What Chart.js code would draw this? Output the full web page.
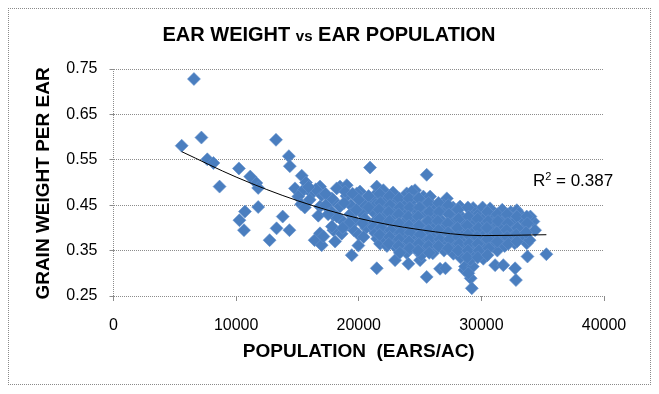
<!DOCTYPE html>
<html>
<head>
<meta charset="utf-8">
<script src="https://cdn.jsdelivr.net/npm/chart.js@4/dist/chart.umd.min.js"></script>
<style>
  html, body { margin: 0; padding: 0; background: #fff; }
  #wrap { position: relative; width: 659px; height: 394px; }
  #frame { position: absolute; left: 8px; top: 8px; width: 641px; height: 375px; border: 1px dotted #8a8a8a; pointer-events: none; }
  canvas { position: absolute; left: 0; top: 0; }
</style>
</head>
<body>
<div id="wrap">
  <canvas id="c" width="659" height="394"></canvas>
  <div id="frame"></div>
</div>
<script>
// ---- DATA ----
const chartTitle = ["EAR WEIGHT ", "vs", " EAR POPULATION"];
const xAxisTitle = "POPULATION  (EARS/AC)";
const yAxisTitle = "GRAIN WEIGHT PER EAR";
const r2Label = ["R", "2", " = 0.387"];

const xTicks = [0, 10000, 20000, 30000, 40000];
const yTicks = [0.25, 0.35, 0.45, 0.55, 0.65, 0.75];

const population = [
  5560,6560,7170,7650,8150,8650,10230,11150,11650,11800,11800,10720,10270,10640,12730,13250,13300,13800,
  14300,14380,14350,15350,14800,15480,15070,15300,16170,16840,16980,16840,16700,16400,16980,16840,17930,17930,18470,18470,18610,18200,17800,17660,18200,17930,18070,17810,17120,
  19020,19020,19430,19970,20100,20100,19840,20920,20920,18610,19350,20270,20720,19000,19300,19700,20300,19600,20000,18800,20500,20600,20400,
  21470,21250,21400,21300,21450,21200,21350,21500,21740,21470,
  22010,22100,22000,22200,22050,22010,22150,22300,
  22950,22800,22780,22900,23000,22850,22960,23100,22960,
  23640,23910,23700,23800,23600,23750,23700,23900,
  24500,24590,24320,24400,24600,24450,24670,24500,24400,24550,24050,25000,
  25010,25360,25540,25270,25630,25200,25400,25250,25450,25300,25540,25100,
  25820,26040,26000,26200,26100,26000,26250,26630,
  27180,26380,26730,26900,26800,27000,26900,27070,27140,26950,
  27590,27700,27800,27650,27750,27600,27720,
  28260,28100,28440,28500,28600,28400,28550,28620,28790,28670,28300,
  29330,29200,29400,29250,29400,29300,29130,29220,29300,28940,29100,29500,
  29820,30150,30500,30160,30100,30200,30000,30300,30000,29900,
  30710,30900,31000,30800,31000,30900,31120,31300,
  31700,31800,31600,31700,31500,31790,31900,
  32210,32400,32600,32400,32500,32890,32750,32820,32720,
  33070,33300,33580,33200,33400,33700,33760,33930,
  34240,34380,34000,35300,
  15700,16000,15600,16500,17300,17300,17500,15900,
  18900,19500,20000,19200,18700,20800,20800,20300,19800,
  21700,21750,21650,21700,21800,21700,
  22500,22550,22450,22500,22600,22500,22450,
  23300,23350,23250,23300,23400,23300,23250,23350,
  24100,24150,24050,24100,24200,24100,24150,
  24900,24950,24850,24900,25000,24900,24850,
  25700,25750,25650,25700,25800,25700,25750,
  26500,26550,26450,26500,26600,26500,
  27300,27350,27250,27300,27400,27300,
  28100,28150,28050,28100,28200,28100,
  28900,28950,28850,28900,29000,28900,28850,
  29700,29750,29650,29700,29800,29700,
  30500,30550,30450,30500,30600,30500,
  31300,31350,31250,31300,
  32100,32150,32050,32100,32200,
  32900,32950,32850,32900,
  33700,33750,33650
];
const earWeight = [
  0.581,0.728,0.599,0.551,0.543,0.491,0.531,0.513,0.499,0.488,0.446,0.436,0.417,0.395,0.373,0.594,0.399,0.425,
  0.558,0.536,0.395,0.515,0.487,0.483,0.469,0.452,0.476,0.491,0.472,0.447,0.427,0.373,0.362,0.388,0.428,0.461,0.491,0.447,0.417,0.487,0.465,0.439,0.425,0.395,0.370,0.403,0.381,
  0.494,0.406,0.340,0.361,0.480,0.436,0.476,0.533,0.403,0.387,0.450,0.432,0.461,0.470,0.430,0.415,0.455,0.395,0.385,0.455,0.420,0.400,0.380,
  0.491,0.470,0.452,0.432,0.418,0.402,0.388,0.376,0.365,0.311,
  0.483,0.465,0.445,0.430,0.410,0.395,0.375,0.360,
  0.461,0.478,0.425,0.442,0.405,0.388,0.370,0.355,0.329,
  0.432,0.476,0.455,0.415,0.395,0.375,0.360,0.345,
  0.476,0.483,0.480,0.460,0.440,0.420,0.373,0.400,0.385,0.355,0.321,0.329,
  0.403,0.432,0.517,0.469,0.461,0.450,0.410,0.390,0.370,0.355,0.292,0.340,
  0.469,0.344,0.445,0.425,0.405,0.385,0.365,0.310,
  0.465,0.432,0.388,0.450,0.415,0.400,0.370,0.311,0.438,0.350,
  0.359,0.445,0.425,0.410,0.390,0.375,0.343,
  0.447,0.432,0.388,0.420,0.405,0.370,0.355,0.307,0.344,0.315,0.335,
  0.444,0.425,0.410,0.395,0.375,0.360,0.289,0.267,0.315,0.300,0.330,0.345,
  0.432,0.344,0.388,0.332,0.445,0.420,0.405,0.370,0.360,0.390,
  0.443,0.425,0.410,0.395,0.375,0.360,0.318,0.350,
  0.440,0.420,0.400,0.385,0.370,0.318,0.360,
  0.425,0.435,0.410,0.390,0.375,0.439,0.311,0.285,0.366,
  0.432,0.420,0.403,0.390,0.380,0.366,0.337,0.373,
  0.414,0.395,0.425,0.342,
  0.500,0.462,0.445,0.485,0.475,0.450,0.430,0.490,
  0.480,0.475,0.462,0.410,0.400,0.470,0.445,0.410,0.440,
  0.475,0.455,0.440,0.420,0.400,0.385,
  0.470,0.450,0.435,0.415,0.395,0.380,0.365,
  0.465,0.445,0.430,0.410,0.390,0.375,0.360,0.345,
  0.465,0.445,0.425,0.405,0.390,0.370,0.355,
  0.465,0.445,0.425,0.405,0.385,0.365,0.350,
  0.455,0.435,0.415,0.395,0.375,0.360,0.345,
  0.455,0.435,0.415,0.395,0.375,0.360,
  0.450,0.430,0.410,0.390,0.375,0.355,
  0.440,0.420,0.400,0.380,0.365,0.350,
  0.445,0.425,0.405,0.385,0.365,0.350,0.335,
  0.420,0.400,0.380,0.365,0.350,0.335,
  0.435,0.415,0.400,0.375,0.355,0.340,
  0.430,0.415,0.390,0.370,
  0.430,0.410,0.395,0.380,0.365,
  0.425,0.400,0.385,0.370,
  0.425,0.410,0.390
];

// polynomial trendline as drawn in the reference
const trendX = [5560, 10000, 15000, 20000, 25000, 30000, 35300];
const trendY = [0.568, 0.512, 0.460, 0.421, 0.396, 0.383, 0.385];

// ---- CHART ----
const FONT = '"Liberation Sans", Arial, sans-serif';
const GRID = '#8c8c8c';

const textPlugin = {
  id: 'texts',
  afterDraw(chart) {
    const ctx = chart.ctx, ca = chart.chartArea;
    ctx.save();
    ctx.fillStyle = '#000';
    ctx.textBaseline = 'alphabetic';
    // chart title (mixed sizes)
    const big = 'bold 20px ' + FONT, small = 'bold 15px ' + FONT;
    ctx.font = big; const w1 = ctx.measureText(chartTitle[0]).width; const w3 = ctx.measureText(chartTitle[2]).width;
    ctx.font = small; const w2 = ctx.measureText(chartTitle[1]).width;
    let tx = 329 - (w1 + w2 + w3) / 2; const ty = 41;
    ctx.textAlign = 'left';
    ctx.font = big; ctx.fillText(chartTitle[0], tx, ty); tx += w1;
    ctx.font = small; ctx.fillText(chartTitle[1], tx, ty); tx += w2;
    ctx.font = big; ctx.fillText(chartTitle[2], tx, ty);
    // x axis title
    ctx.font = 'bold 19px ' + FONT; ctx.textAlign = 'center'; ctx.textBaseline = 'middle';
    ctx.fillText(xAxisTitle, (ca.left + ca.right) / 2, 352);
    // y axis title
    ctx.save();
    ctx.translate(44, (ca.top + ca.bottom) / 2 + 1);
    ctx.rotate(-Math.PI / 2);
    ctx.font = 'bold 19px ' + FONT;
    ctx.fillText(yAxisTitle, 0, 0);
    ctx.restore();
    // R^2 label
    const xs = chart.scales.x, ys = chart.scales.y;
    let rx = xs.getPixelForValue(34200), ry = ys.getPixelForValue(0.505) + 6;
    ctx.textAlign = 'left'; ctx.textBaseline = 'alphabetic';
    ctx.font = '17px ' + FONT; ctx.fillText(r2Label[0], rx, ry); rx += ctx.measureText(r2Label[0]).width;
    ctx.font = '11px ' + FONT; ctx.fillText(r2Label[1], rx, ry - 6); rx += ctx.measureText(r2Label[1]).width;
    ctx.font = '17px ' + FONT; ctx.fillText(r2Label[2], rx, ry);
    ctx.restore();
  }
};

new Chart(document.getElementById('c'), {
  type: 'scatter',
  data: {
    datasets: [
      {
        label: 'Ear weight',
        data: population.map((x, i) => ({ x: x, y: earWeight[i] })),
        pointStyle: 'rectRot',
        pointRadius: 6.5,
        pointBackgroundColor: '#4A7EBF',
        pointBorderColor: '#6391CC',
        pointBorderWidth: 0.6,
        order: 2
      },
      {
        type: 'line',
        label: 'Trend',
        data: trendX.map((x, i) => ({ x: x, y: trendY[i] })),
        borderColor: '#000',
        borderWidth: 1,
        pointRadius: 0,
        fill: false,
        cubicInterpolationMode: 'monotone',
        order: 1
      }
    ]
  },
  options: {
    responsive: false,
    animation: false,
    devicePixelRatio: 1,
    layout: { padding: { left: 0, right: 55, top: 69, bottom: 0 } },
    plugins: { legend: { display: false }, title: { display: false }, tooltip: { enabled: false } },
    scales: {
      x: {
        type: 'linear', min: 0, max: 40000,
        afterBuildTicks: s => { s.ticks = xTicks.map(v => ({ value: v })); },
        afterFit: s => { s.height = 98; },
        ticks: { font: { family: FONT, size: 16 }, color: '#000', padding: 15, maxRotation: 0, callback: v => String(v) },
        grid: { color: c => (c.index === 0 ? GRID : 'rgba(0,0,0,0)'), tickColor: GRID, tickLength: 5, drawOnChartArea: true },
        border: { display: false, dash: [1, 1] }
      },
      y: {
        min: 0.25, max: 0.75,
        afterBuildTicks: s => { s.ticks = yTicks.map(v => ({ value: v })); },
        afterFit: s => { s.width = 113.5; },
        ticks: { font: { family: FONT, size: 16 }, color: '#000', padding: 12, callback: v => v.toFixed(2) },
        grid: { color: GRID, tickColor: GRID, tickLength: 4 },
        border: { display: false, dash: [1, 1] }
      }
    }
  },
  plugins: [textPlugin]
});
</script>
</body>
</html>
